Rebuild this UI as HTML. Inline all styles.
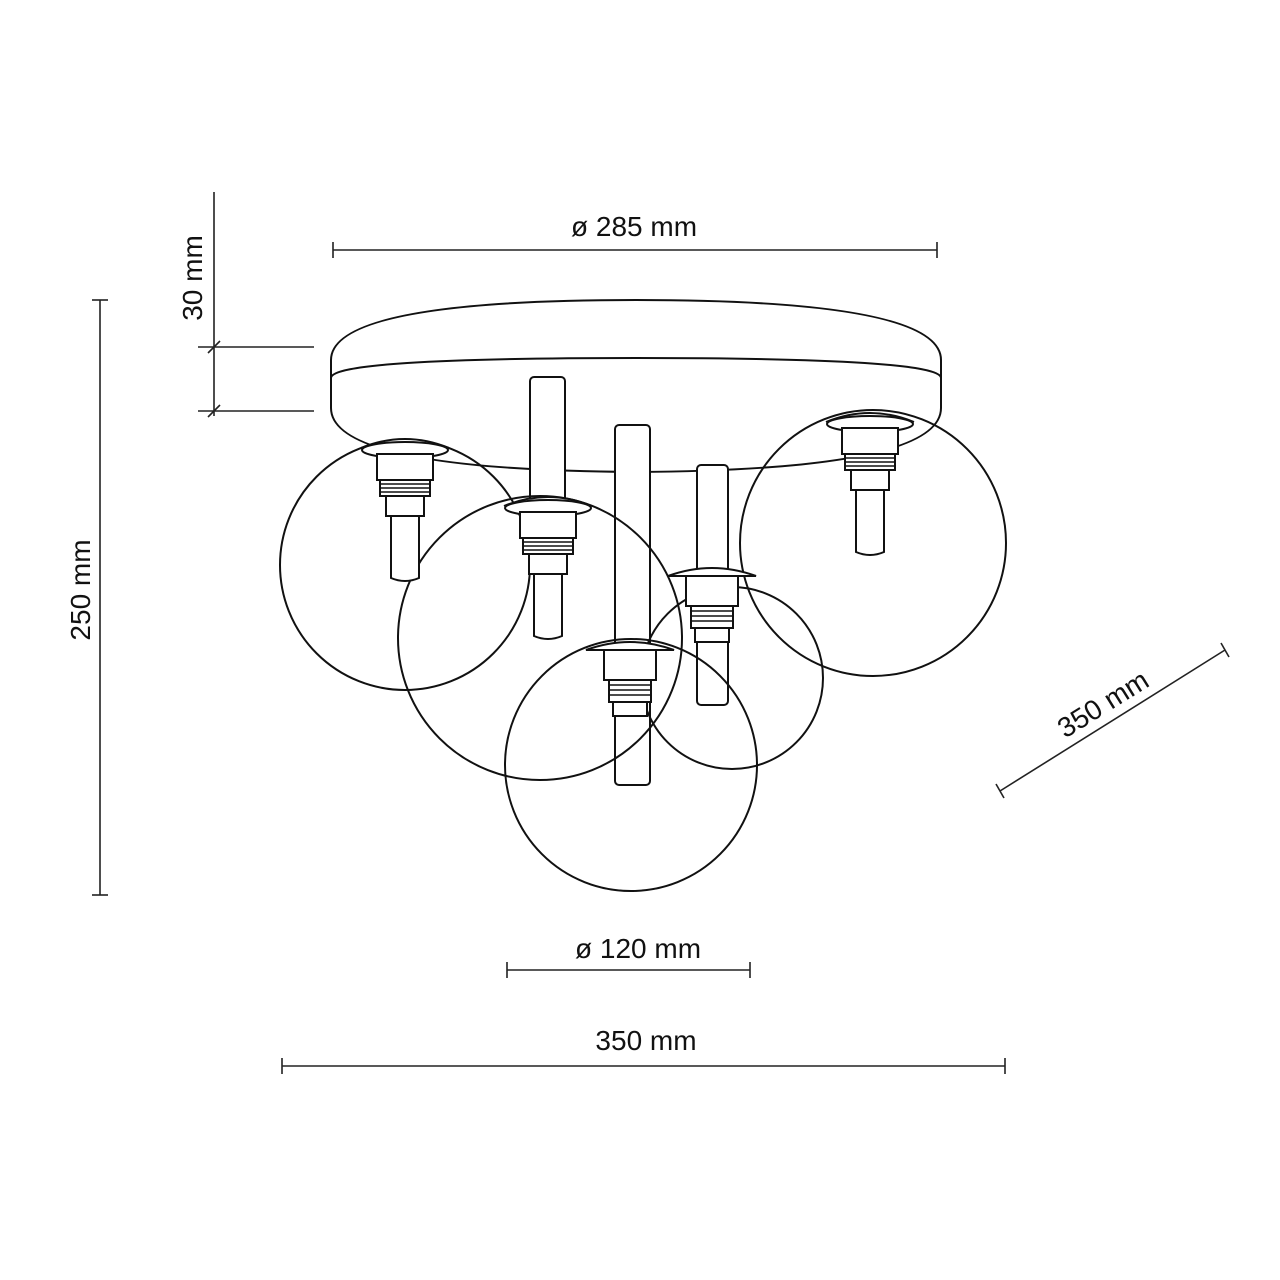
<!DOCTYPE html>
<html><head><meta charset="utf-8"><style>
html,body{margin:0;padding:0;background:#fff;}
svg{display:block;}
text{font-family:"Liberation Sans",sans-serif;fill:#111;}
</style></head><body>
<svg width="1280" height="1280" viewBox="0 0 1280 1280" xmlns="http://www.w3.org/2000/svg">
<defs>
<g id="sock">
  <path d="M-44,10 Q0,-8 44,10" fill="#fff" stroke="#111" stroke-width="2"/>
  <ellipse cx="0" cy="12" rx="43" ry="8" fill="#fff" stroke="#111" stroke-width="2"/>
  <rect x="-28" y="16" width="56" height="26" fill="#fff" stroke="#111" stroke-width="2"/>
  <rect x="-25" y="42" width="50" height="16" fill="#fff" stroke="#111" stroke-width="2"/>
  <line x1="-25" y1="46" x2="25" y2="46" stroke="#111" stroke-width="1.6"/>
  <line x1="-25" y1="50" x2="25" y2="50" stroke="#111" stroke-width="1.6"/>
  <line x1="-25" y1="54" x2="25" y2="54" stroke="#111" stroke-width="1.6"/>
  <rect x="-19" y="58" width="38" height="20" fill="#fff" stroke="#111" stroke-width="2"/>
  <path d="M-14,78 L-14,140 Q0,146 14,140 L14,78 Z" fill="#fff" stroke="#111" stroke-width="2"/>
</g>
<g id="sock2">
  <path d="M-44,12 Q0,-4 44,12 Z" fill="#fff" stroke="#111" stroke-width="2"/>
  <rect x="-26" y="12" width="52" height="30" fill="#fff" stroke="#111" stroke-width="2"/>
  <rect x="-21" y="42" width="42" height="22" fill="#fff" stroke="#111" stroke-width="2"/>
  <line x1="-21" y1="47" x2="21" y2="47" stroke="#111" stroke-width="1.6"/>
  <line x1="-21" y1="52" x2="21" y2="52" stroke="#111" stroke-width="1.6"/>
  <line x1="-21" y1="57" x2="21" y2="57" stroke="#111" stroke-width="1.6"/>
  <rect x="-17" y="64" width="34" height="14" fill="#fff" stroke="#111" stroke-width="2"/>
</g>
</defs>

<g fill="none" stroke="#111" stroke-width="2">
  <!-- canopy -->
  <path d="M331,360 Q331,300 636,300 Q941,300 941,360 L941,408 Q941,470 636,472 Q331,470 331,408 Z" fill="#fff"/>
  <path d="M331,378 Q331,358 636,358 Q941,358 941,378"/>
  <!-- rods -->
  <rect x="530" y="377" width="35" height="130" rx="4" fill="#fff"/>
  <rect x="615" y="425" width="35" height="360" rx="4" fill="#fff"/>
  <rect x="697" y="465" width="31" height="240" rx="4" fill="#fff"/>
  <!-- globes -->
  <circle cx="405" cy="565" r="125"/>
  <circle cx="540" cy="638" r="142"/>
  <circle cx="631" cy="765" r="126"/>
  <circle cx="732" cy="678" r="91"/>
  <circle cx="873" cy="543" r="133"/>
</g>
<use href="#sock" x="405" y="438"/>
<use href="#sock" x="548" y="496" transform="translate(0,0)"/>
<use href="#sock" x="870" y="412"/>
<use href="#sock2" x="712" y="564"/>
<use href="#sock2" x="630" y="638"/>

<!-- dimension lines -->
<g stroke="#222" stroke-width="1.6" fill="none">
  <line x1="333" y1="250" x2="937" y2="250"/>
  <line x1="333" y1="242" x2="333" y2="258"/><line x1="937" y1="242" x2="937" y2="258"/>
  <line x1="100" y1="300" x2="100" y2="895"/>
  <line x1="92" y1="300" x2="108" y2="300"/><line x1="92" y1="895" x2="108" y2="895"/>
  <line x1="214" y1="192" x2="214" y2="416"/>
  <line x1="198" y1="347" x2="314" y2="347"/><line x1="198" y1="411" x2="314" y2="411"/>
  <line x1="208" y1="353" x2="220" y2="341"/><line x1="208" y1="417" x2="220" y2="405"/>
  <line x1="507" y1="970" x2="750" y2="970"/>
  <line x1="507" y1="962" x2="507" y2="978"/><line x1="750" y1="962" x2="750" y2="978"/>
  <line x1="282" y1="1066" x2="1005" y2="1066"/>
  <line x1="282" y1="1058" x2="282" y2="1074"/><line x1="1005" y1="1058" x2="1005" y2="1074"/>
  <line x1="1000" y1="791" x2="1225" y2="650"/>
  <line x1="996" y1="784" x2="1004" y2="798"/><line x1="1221" y1="643" x2="1229" y2="657"/>
</g>
<g font-size="28">
  <text x="634" y="236" text-anchor="middle">ø 285 mm</text>
  <text x="638" y="958" text-anchor="middle">ø 120 mm</text>
  <text x="646" y="1050" text-anchor="middle">350 mm</text>
  <text transform="translate(90,590) rotate(-90)" text-anchor="middle">250 mm</text>
  <text transform="translate(202,278) rotate(-90)" text-anchor="middle">30 mm</text>
  <text transform="translate(1108,712) rotate(-32)" text-anchor="middle">350 mm</text>
</g>
</svg>
</body></html>
